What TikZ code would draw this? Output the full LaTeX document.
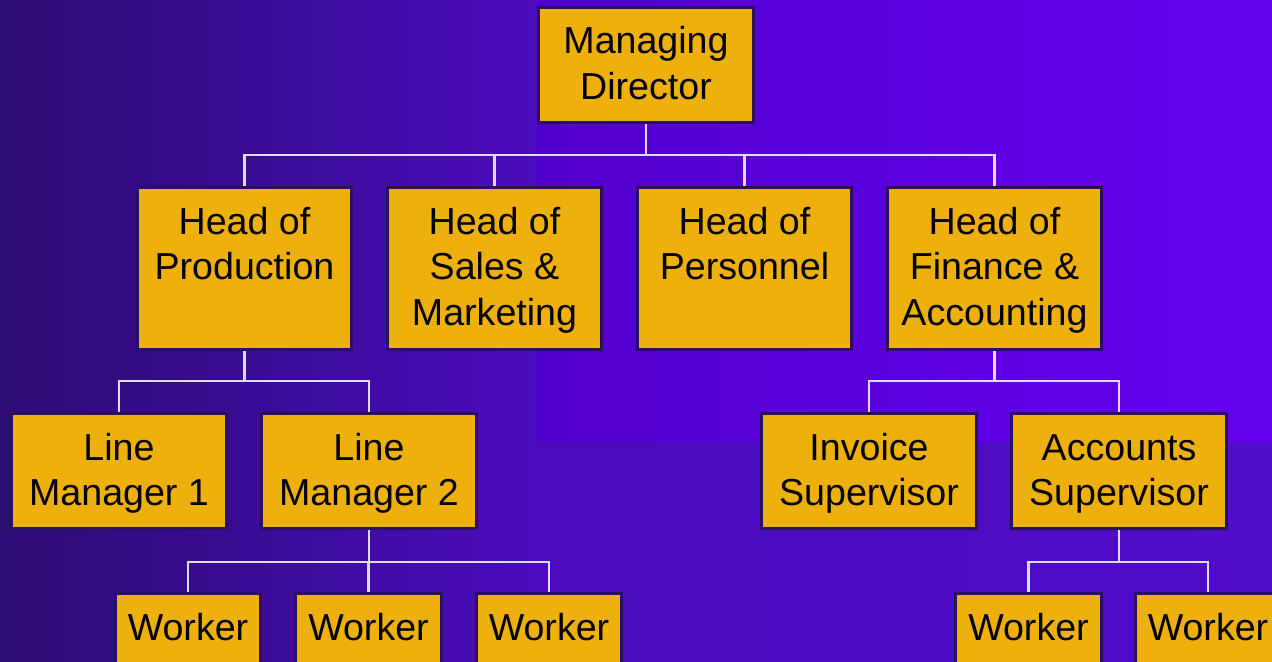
\documentclass[tikz,border=0pt]{standalone}
\usepackage{fontspec}
\setmainfont{Liberation Sans}
\usepackage{tikz}
\usetikzlibrary{positioning}

\definecolor{boxgold}{HTML}{EEB00C}
\definecolor{boxrim}{HTML}{2A1060}
\definecolor{linkwhite}{HTML}{DEDCEE}
\definecolor{bgdark}{HTML}{2C0B72}
\definecolor{bgmid}{HTML}{4A0CBC}
\definecolor{bgend}{HTML}{500CCA}
\definecolor{bglight}{HTML}{5200CE}
\definecolor{bgbright}{HTML}{6400F0}
\pgfdeclarehorizontalshading{bgshade}{100bp}{color(0bp)=(bgdark); color(25bp)=(bgdark);
	color(46bp)=(bgmid); color(75bp)=(bgend); color(100bp)=(bgend)}

% text sits at the top of each box
\newcommand{\orgtext}[3]{\parbox[c][#2][t]{#1}{\centering\rule{0pt}{0.94cm}#3}}

\begin{document}
\begin{tikzpicture}[x=0.02cm, y=-0.02cm,
	post/.style={draw=boxrim, fill=boxgold, line width=0.06cm, inner sep=0pt,
		font=\fontsize{21.4}{26.1}\selectfont},
	link/.style={draw=linkwhite, line width=0.05cm}]
	\useasboundingbox (0,0) rectangle (1272,662);
	\clip (0,0) rectangle (1272,662);
	% background
	\shade[shading=bgshade] (0,0) rectangle (1272,662);
	\shade[left color=bglight, right color=bgbright] (537,0) rectangle (1272,441);
	% level 1
	\node[post] (md) at (646,65) {\orgtext{4.32cm}{2.32cm}{Managing\\Director}};
	% level 2
	\node[post] (hprod) at (244.5,268.5) {\orgtext{4.3cm}{3.26cm}{Head of\\Production}};
	\node[post] (hsales) at (494.5,268.5) {\orgtext{4.3cm}{3.26cm}{Head of\\Sales \&\\Marketing}};
	\node[post] (hpers) at (744.5,268.5) {\orgtext{4.3cm}{3.26cm}{Head of\\Personnel}};
	\node[post] (hfin) at (994.5,268.5) {\orgtext{4.3cm}{3.26cm}{Head of\\Finance \&\\Accounting}};
	% level 3
	\node[post] (lm1) at (119,471) {\orgtext{4.32cm}{2.32cm}{Line\\Manager 1}};
	\node[post] (lm2) at (369,471) {\orgtext{4.32cm}{2.32cm}{Line\\Manager 2}};
	\node[post] (inv) at (869,471) {\orgtext{4.32cm}{2.32cm}{Invoice\\Supervisor}};
	\node[post] (acc) at (1119,471) {\orgtext{4.32cm}{2.32cm}{Accounts\\Supervisor}};
	% level 4
	\node[post] (w1) at (188,651) {\orgtext{2.92cm}{2.32cm}{Worker}};
	\node[post] (w2) at (368.5,651) {\orgtext{2.92cm}{2.32cm}{Worker}};
	\node[post] (w3) at (549,651) {\orgtext{2.92cm}{2.32cm}{Worker}};
	\node[post] (w4) at (1028.5,651) {\orgtext{2.92cm}{2.32cm}{Worker}};
	\node[post] (w5) at (1208,651) {\orgtext{2.92cm}{2.32cm}{Worker}};
	% links
	\coordinate (bus1) at (0,155);
	\coordinate (bus2) at (0,381);
	\coordinate (bus3) at (0,562);
	\foreach \c in {hprod,hsales,hpers,hfin}
		\draw[link] (md.south) -- (md.south |- bus1) -| (\c.north);
	\foreach \c in {lm1,lm2}
		\draw[link] (hprod.south) -- (hprod.south |- bus2) -| (\c.north);
	\foreach \c in {inv,acc}
		\draw[link] (hfin.south) -- (hfin.south |- bus2) -| (\c.north);
	\foreach \c in {w1,w2,w3}
		\draw[link] (lm2.south) -- (lm2.south |- bus3) -| (\c.north);
	\foreach \c in {w4,w5}
		\draw[link] (acc.south) -- (acc.south |- bus3) -| (\c.north);
\end{tikzpicture}
\end{document}
